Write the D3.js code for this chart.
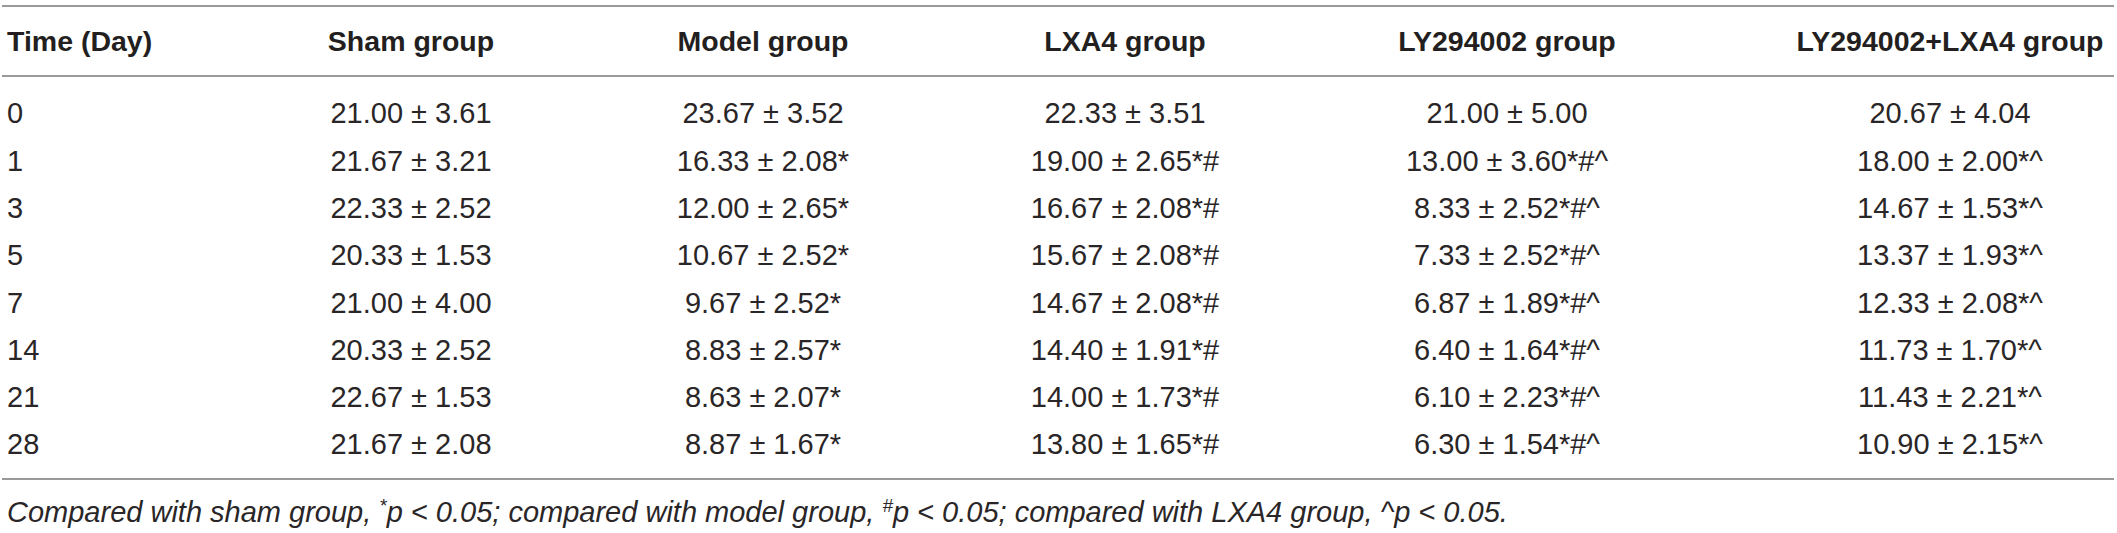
<!DOCTYPE html>
<html>
<head>
<meta charset="utf-8">
<script src="https://cdn.jsdelivr.net/npm/d3@7"></script>
<style>
  html, body { margin: 0; padding: 0; background: #fff; }
  svg { display: block; }
</style>
</head>
<body>
<svg id="chart" width="2117" height="533"></svg>
<script>
// ---- data ----
const days = [0, 1, 3, 5, 7, 14, 21, 28];
const headerLabels = ["Time (Day)", "Sham group", "Model group", "LXA4 group", "LY294002 group", "LY294002+LXA4 group"];

const shamMean   = [21.00, 21.67, 22.33, 20.33, 21.00, 20.33, 22.67, 21.67];
const shamSD     = [3.61, 3.21, 2.52, 1.53, 4.00, 2.52, 1.53, 2.08];
const shamMarks  = ["", "", "", "", "", "", "", ""];

const modelMean  = [23.67, 16.33, 12.00, 10.67, 9.67, 8.83, 8.63, 8.87];
const modelSD    = [3.52, 2.08, 2.65, 2.52, 2.52, 2.57, 2.07, 1.67];
const modelMarks = ["", "*", "*", "*", "*", "*", "*", "*"];

const lxa4Mean   = [22.33, 19.00, 16.67, 15.67, 14.67, 14.40, 14.00, 13.80];
const lxa4SD     = [3.51, 2.65, 2.08, 2.08, 2.08, 1.91, 1.73, 1.65];
const lxa4Marks  = ["", "*#", "*#", "*#", "*#", "*#", "*#", "*#"];

const lyMean     = [21.00, 13.00, 8.33, 7.33, 6.87, 6.40, 6.10, 6.30];
const lySD       = [5.00, 3.60, 2.52, 2.52, 1.89, 1.64, 2.23, 1.54];
const lyMarks    = ["", "*#^", "*#^", "*#^", "*#^", "*#^", "*#^", "*#^"];

const lyLxMean   = [20.67, 18.00, 14.67, 13.37, 12.33, 11.73, 11.43, 10.90];
const lyLxSD     = [4.04, 2.00, 1.53, 1.93, 2.08, 1.70, 2.21, 2.15];
const lyLxMarks  = ["", "*^", "*^", "*^", "*^", "*^", "*^", "*^"];

// footnote pieces: [text, isSuperscript]
const footnoteParts = [
  ["Compared with sham group, ", false], ["*", true], ["p < 0.05; compared with model group, ", false],
  ["#", true], ["p < 0.05; compared with LXA4 group, ^p < 0.05.", false]
];

// ---- layout ----
const W = 2117;
const fontBody = "'Liberation Sans', Arial, Helvetica, sans-serif";
const fontSize = 29;
const headerSize = 28.5;
const textColor = "#2a2627";
const ruleColor = "#9a9a9a";
const colCenters = [411, 763, 1125, 1507, 1950];
const timeX = 7;

const groups = [
  {mean: shamMean,  sd: shamSD,  marks: shamMarks},
  {mean: modelMean, sd: modelSD, marks: modelMarks},
  {mean: lxa4Mean,  sd: lxa4SD,  marks: lxa4Marks},
  {mean: lyMean,    sd: lySD,    marks: lyMarks},
  {mean: lyLxMean,  sd: lyLxSD,  marks: lyLxMarks}
];

const svg = d3.select("#chart");
const fmt = d3.format(".2f");

const y = d3.scalePoint().domain(days).range([113, 444]);
const x = d3.scaleOrdinal().domain(d3.range(groups.length)).range(colCenters);

// rules
const rules = [6, 76, 479];
svg.selectAll("line.rule").data(rules).join("line")
  .attr("class", "rule")
  .attr("x1", 2).attr("x2", W - 3)
  .attr("y1", d => d).attr("y2", d => d)
  .attr("stroke", ruleColor).attr("stroke-width", 2);

// header
const headerY = 41;
svg.selectAll("text.hdr").data(headerLabels).join("text")
  .attr("class", "hdr")
  .attr("x", (d, i) => i === 0 ? timeX : x(i - 1))
  .attr("y", headerY)
  .attr("dy", "0.36em")
  .attr("text-anchor", (d, i) => i === 0 ? "start" : "middle")
  .attr("font-family", fontBody)
  .attr("font-size", headerSize)
  .attr("font-weight", "bold")
  .attr("fill", "#231f20")
  .text(d => d);

// time column
svg.selectAll("text.day").data(days).join("text")
  .attr("class", "day")
  .attr("x", timeX)
  .attr("y", d => y(d))
  .attr("dy", "0.36em")
  .attr("font-family", fontBody)
  .attr("font-size", fontSize)
  .attr("font-weight", 300)
  .attr("fill", textColor)
  .text(d => d);

// value cells
groups.forEach((g, gi) => {
  svg.append("g").selectAll("text").data(days).join("text")
    .attr("x", x(gi))
    .attr("y", d => y(d))
    .attr("dy", "0.36em")
    .attr("text-anchor", "middle")
    .attr("font-family", fontBody)
    .attr("font-size", fontSize)
    .attr("font-weight", 300)
    .attr("fill", textColor)
    .text((d, i) => fmt(g.mean[i]) + " \u00b1 " + fmt(g.sd[i]) + g.marks[i]);
});

// footnote
const fn = svg.append("text")
  .attr("x", timeX)
  .attr("y", 512)
  .attr("dy", "0.36em")
  .attr("font-family", fontBody)
  .attr("font-size", fontSize)
  .attr("font-style", "italic")
  .attr("font-weight", 300)
  .attr("fill", textColor);
footnoteParts.forEach(([t, sup], i) => {
  const prevSup = i > 0 && footnoteParts[i - 1][1];
  const ts = fn.append("tspan").text(t);
  if (sup) ts.attr("font-size", fontSize * 0.65).attr("dy", -10);
  else if (prevSup) ts.attr("dy", 10);
});
</script>
</body>
</html>
